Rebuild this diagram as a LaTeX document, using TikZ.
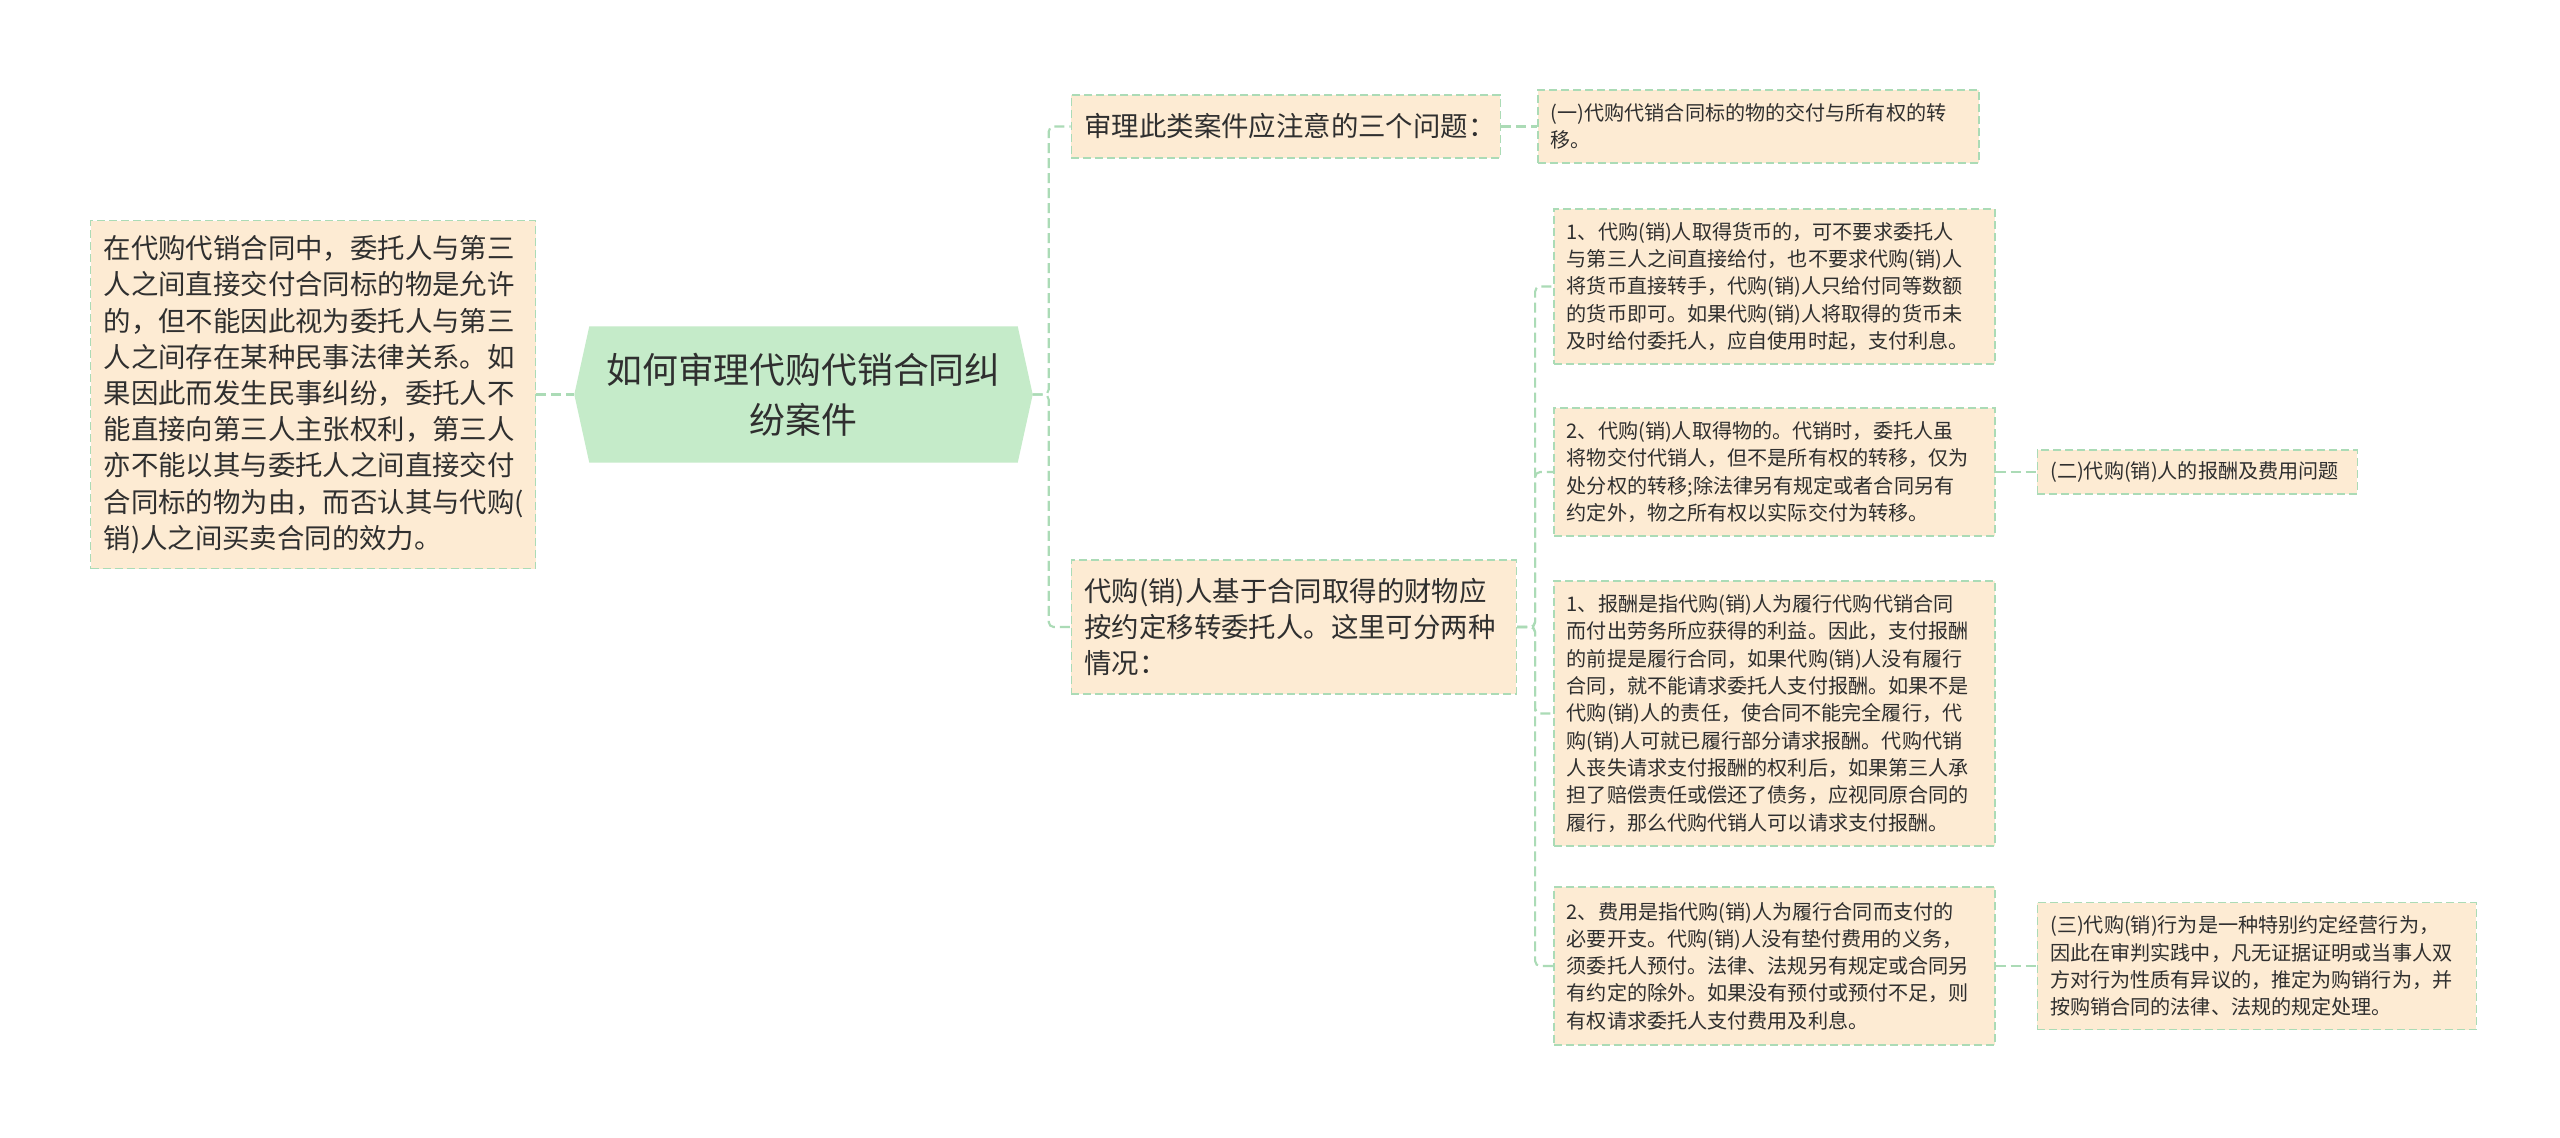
\documentclass[tikz,border=0pt]{standalone}
\usepackage{fontspec}
\setmainfont{Noto Sans CJK SC}
\usetikzlibrary{positioning, backgrounds}

\definecolor{peach}{HTML}{FDEBD3}
\definecolor{rootgreen}{HTML}{C5EBC9}
\definecolor{edgegreen}{HTML}{ABDBB6}
\definecolor{textgray}{HTML}{2F2F2F}

\tikzset{
  rootbox/.style={minimum width=4.27cm, minimum height=1.35cm, inner sep=0pt,
    align=center, text=textgray, font={\fontsize{10.2pt}{14.2pt}\selectfont}},
  midbox/.style={draw=edgegreen, line width=0.4pt, dash pattern=on 0.08cm off 0.04cm,
    fill=peach, inner xsep=0.13cm, inner ysep=0pt, align=left, text=textgray,
    font={\fontsize{7.8pt}{10.3pt}\selectfont}},
  leafbox/.style={midbox, font={\fontsize{5.72pt}{7.77pt}\selectfont}},
  link/.style={draw=edgegreen, line width=0.6pt, dash pattern=on 0.1cm off 0.05cm,
    rounded corners=0.05cm}
}

\begin{document}
\begin{tikzpicture}
\useasboundingbox (0,0) rectangle (25.6,-11.37);

\node[rootbox] (root) at (8.035,-3.945) {如何审理代购代销合同纠\\纷案件};
\coordinate (rootE) at ([xshift=0.15cm]root.east);
\coordinate (rootW) at ([xshift=-0.15cm]root.west);

\node[midbox, text width=4.19cm, minimum height=3.48cm, left=0.53cm of root] (note)
  {在代购代销合同中，委托人与第三\\人之间直接交付合同标的物是允许\\的，但不能因此视为委托人与第三\\人之间存在某种民事法律关系。如\\果因此而发生民事纠纷，委托人不\\能直接向第三人主张权利，第三人\\亦不能以其与委托人之间直接交付\\合同标的物为由，而否认其与代购(\\销)人之间买卖合同的效力。};

\node[midbox, text width=4.03cm, minimum height=0.63cm, right=0.53cm of root, yshift=2.68cm] (ask)
  {审理此类案件应注意的三个问题：};
\node[midbox, text width=4.19cm, minimum height=1.34cm, right=0.53cm of root, yshift=-2.325cm] (keep)
  {代购(销)人基于合同取得的财物应\\按约定移转委托人。这里可分两种\\情况：};

\node[leafbox, text width=4.15cm, minimum height=0.73cm, right=0.36cm of ask] (part1)
  {(一)代购代销合同标的物的交付与所有权的转\\移。};

\node[leafbox, text width=4.15cm, minimum height=1.55cm, right=0.36cm of keep, yshift=3.405cm] (money)
  {1、代购(销)人取得货币的，可不要求委托人\\与第三人之间直接给付，也不要求代购(销)人\\将货币直接转手，代购(销)人只给付同等数额\\的货币即可。如果代购(销)人将取得的货币未\\及时给付委托人，应自使用时起，支付利息。};
\node[leafbox, text width=4.15cm, minimum height=1.28cm, right=0.36cm of keep, yshift=1.55cm] (goods)
  {2、代购(销)人取得物的。代销时，委托人虽\\将物交付代销人，但不是所有权的转移，仅为\\处分权的转移;除法律另有规定或者合同另有\\约定外，物之所有权以实际交付为转移。};
\node[leafbox, text width=4.15cm, minimum height=2.65cm, right=0.36cm of keep, yshift=-0.865cm] (fee)
  {1、报酬是指代购(销)人为履行代购代销合同\\而付出劳务所应获得的利益。因此，支付报酬\\的前提是履行合同，如果代购(销)人没有履行\\合同，就不能请求委托人支付报酬。如果不是\\代购(销)人的责任，使合同不能完全履行，代\\购(销)人可就已履行部分请求报酬。代购代销\\人丧失请求支付报酬的权利后，如果第三人承\\担了赔偿责任或偿还了债务，应视同原合同的\\履行，那么代购代销人可以请求支付报酬。};
\node[leafbox, text width=4.15cm, minimum height=1.58cm, right=0.36cm of keep, yshift=-3.39cm] (cost)
  {2、费用是指代购(销)人为履行合同而支付的\\必要开支。代购(销)人没有垫付费用的义务，\\须委托人预付。法律、法规另有规定或合同另\\有约定的除外。如果没有预付或预付不足，则\\有权请求委托人支付费用及利息。};

\node[leafbox, text width=2.94cm, minimum height=0.44cm, right=0.41cm of goods] (part2)
  {(二)代购(销)人的报酬及费用问题};
\node[leafbox, text width=4.13cm, minimum height=1.27cm, right=0.41cm of cost] (part3)
  {(三)代购(销)行为是一种特别约定经营行为，\\因此在审判实践中，凡无证据证明或当事人双\\方对行为性质有异议的，推定为购销行为，并\\按购销合同的法律、法规的规定处理。};

\begin{scope}[on background layer]
\fill[white] (0,0) rectangle (25.6,-11.37);
\fill[rootgreen] (root.north west) -- (root.north east) -- (rootE)
  -- (root.south east) -- (root.south west) -- (rootW) -- cycle;
\end{scope}

\draw[link] (note.east) -- (rootW);
\draw[link] (rootE) -- ++(0.16,0) |- (ask.west);
\draw[link] (rootE) -- ++(0.16,0) |- (keep.west);
\draw[link] (ask.east) -- (part1.west);
\draw[link] (keep.east) -- ++(0.18,0) |- (money.west);
\draw[link] (keep.east) -- ++(0.18,0) |- (goods.west);
\draw[link] (keep.east) -- ++(0.18,0) |- (fee.west);
\draw[link] (keep.east) -- ++(0.18,0) |- (cost.west);
\draw[link] (goods.east) -- (part2.west);
\draw[link] (cost.east) -- (part3.west);
\end{tikzpicture}
\end{document}
